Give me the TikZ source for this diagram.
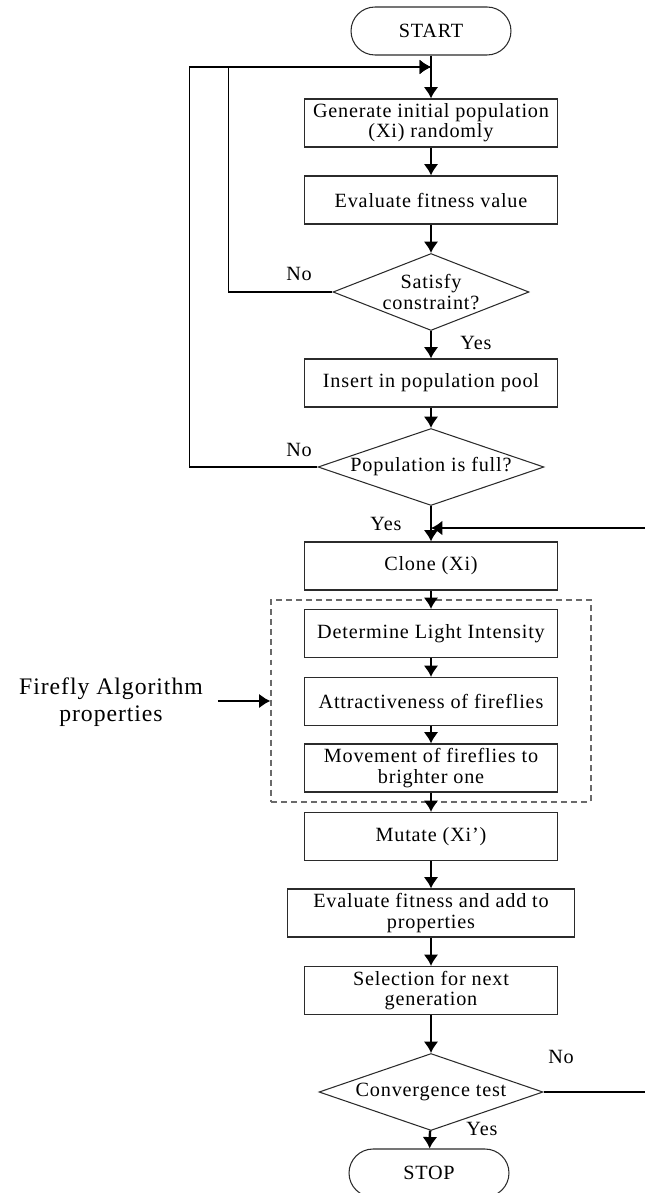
\documentclass[tikz,border=0pt]{standalone}
\usepackage{fontspec}
\setmainfont{Liberation Serif}[LetterSpace=4]
\usepackage{xcolor}
\usepackage{tikz}
\usetikzlibrary{arrows.meta,positioning,calc,shapes.geometric}
\definecolor{trait}{HTML}{2B2B2B}
\definecolor{tirets}{HTML}{6A6A6A}
\tikzset{
  proc/.style={rectangle, draw=trait, line width=0.6pt, align=center, inner sep=1pt,
               font=\fontsize{11.5}{11.5}\selectfont, minimum width=5.06cm, minimum height=0.96cm},
  cond/.style={diamond, aspect=#1, draw=trait, line width=0.6pt, align=center, inner sep=0pt,
               font=\fontsize{11.5}{11.5}\selectfont, minimum height=1.54cm},
  term/.style={rectangle, rounded corners=0.48cm, draw=trait, line width=0.6pt,
               font=\fontsize{11.5}{11.5}\selectfont, minimum width=3.2cm, minimum height=0.96cm},
  famille/.style={rectangle, draw=tirets, line width=0.7pt, dash pattern=on 3.4pt off 2.3pt,
                  minimum width=6.4cm, minimum height=4.04cm},
  lbl/.style={font=\fontsize{11.5}{11.5}\selectfont},
  arr/.style={-{Latex[length=6.5pt,width=8.5pt]}, line width=1.4pt},
  back/.style={-{Latex[length=6.5pt,width=8.5pt]}, line width=1.1pt},
}
\begin{document}
\begin{tikzpicture}[x=0.02cm, y=-0.02cm]
  \useasboundingbox (0,0) rectangle (645,1193);
  \node[term] (start) at (431,31) {START};
  \coordinate (top) at (431,67);
  \node[proc] (gen) at (431,123) {Generate initial population\\(Xi) randomly};
  \node[proc] (evalfit) at (431,200) {Evaluate fitness value};
  \node[cond=2.55, minimum width=3.92cm] (sat) at (431,292) {Satisfy\\constraint?};
  \node[proc] (insert) at (431,383) {Insert in population pool};
  \node[cond=2.93, minimum width=4.52cm] (full) at (431,467) {Population is full?};
  \coordinate (join) at (431,528);
  \node[proc] (clone) at (431,566) {Clone (Xi)};
  \node[famille] (fa) at (431,701) {};
  \node[proc] (light) at (431,633.5) {Determine Light Intensity};
  \node[proc] (attr) at (431,701.5) {Attractiveness of fireflies};
  \node[proc] (move) at (431,768) {Movement of fireflies to\\brighter one};
  \node[proc] (mutate) at (431,836.5) {Mutate (Xi’)};
  \node[proc, minimum width=5.74cm] (evaladd) at (431,913) {Evaluate fitness and add to\\properties};
  \node[proc] (select) at (431,990.5) {Selection for next\\generation};
  \node[cond=2.9, minimum width=4.48cm] (conv) at (431,1092) {Convergence test};
  \node[term] (stop) at (429,1173) {STOP};
  \node[align=center, font=\fontsize{13.5}{15}\selectfont] (ffl) at (111,702) {Firefly Algorithm\\properties};
  \node[lbl] (no1) at (299,274) {No};
  \node[lbl] (yes1) at (476,343) {Yes};
  \node[lbl] (no2) at (299,450) {No};
  \node[lbl] (yes2) at (386,524) {Yes};
  \node[lbl] (no3) at (561,1057) {No};
  \node[lbl] (yes3) at (482,1129) {Yes};
  \draw[arr] (start) -- (gen);
  \draw[arr] (gen) -- (evalfit);
  \draw[arr] (evalfit) -- (sat);
  \draw[arr] (sat) -- (insert);
  \draw[arr] (insert) -- (full);
  \draw[arr] (full) -- (clone);
  \draw[arr] (clone) -- (light);
  \draw[arr] (light) -- (attr);
  \draw[arr] (attr) -- (move);
  \draw[arr] (move) -- (mutate);
  \draw[arr] (mutate) -- (evaladd);
  \draw[arr] (evaladd) -- (select);
  \draw[arr] (select) -- (conv);
  \draw[arr] (conv) -- (stop);
  \draw[back] (sat.west) -- ++(-104,0) |- (top);
  \draw[back] (full.west) -- ++(-128,0) |- (top);
  \draw[back] (conv.east) -- ++(130,0) |- (join);
  \draw[arr, shorten <=5pt] (ffl.east |- fa.west) -- (fa.west);
\end{tikzpicture}
\end{document}
